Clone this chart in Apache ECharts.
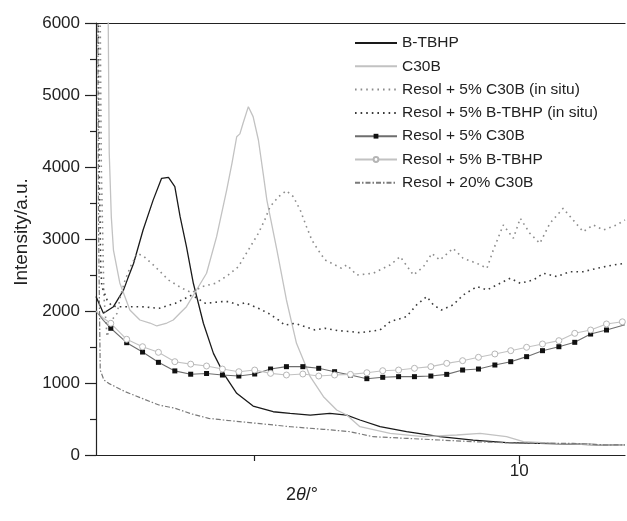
<!DOCTYPE html>
<html>
<head>
<meta charset="utf-8">
<script src="https://cdn.jsdelivr.net/npm/echarts@6/dist/echarts.min.js"></script>
<style>
  html, body { margin: 0; padding: 0; background: #fff; }
  #chart { width: 627px; height: 521px; }
</style>
</head>
<body>
<div id="chart"></div>
<script>
// B-TBHP
const bX = [2.00, 2.14, 2.33, 2.52, 2.60, 2.71, 2.89, 3.08, 3.24, 3.37, 3.49, 3.59, 3.71, 3.84, 4.03, 4.22, 4.41, 4.66, 4.97, 5.35, 5.67, 6.05, 6.42, 6.74, 6.99, 7.37, 7.87, 8.50, 9.13, 9.76, 10.39, 11.02, 11.65, 12.00];
const bY = [2200, 1968, 2060, 2290, 2450, 2660, 3125, 3540, 3843, 3857, 3727, 3310, 2893, 2385, 1830, 1412, 1135, 857, 680, 601, 579, 555, 579, 555, 486, 393, 324, 254, 208, 171, 162, 153, 139, 135];

// C30B
const cX = [2.20, 2.25, 2.29, 2.33, 2.45, 2.64, 2.83, 3.02, 3.15, 3.34, 3.46, 3.59, 3.71, 3.90, 4.09, 4.28, 4.47, 4.57, 4.66, 4.72, 4.78, 4.88, 4.97, 5.07, 5.16, 5.23, 5.42, 5.60, 5.79, 6.05, 6.30, 6.55, 6.74, 6.99, 7.56, 8.19, 8.82, 9.26, 9.76, 10.08, 10.71, 11.65, 12.00];
const cY = [9000, 4200, 3300, 2847, 2390, 2014, 1875, 1833, 1792, 1833, 1875, 1972, 2060, 2292, 2524, 3032, 3680, 4050, 4420, 4460, 4607, 4838, 4700, 4375, 3912, 3540, 2847, 2153, 1551, 1088, 810, 625, 555, 393, 301, 254, 278, 301, 254, 185, 162, 139, 135];

// Resol + 5% C30B (in situ)
const ciX = [2.05, 2.10, 2.15, 2.21, 2.30, 2.40, 2.46, 2.55, 2.65, 2.78, 2.90, 3.12, 3.37, 3.63, 3.81, 4.00, 4.26, 4.50, 4.69, 4.88, 5.07, 5.19, 5.29, 5.45, 5.60, 5.73, 5.86, 5.98, 6.08, 6.20, 6.33, 6.46, 6.64, 6.74, 6.93, 7.24, 7.56, 7.75, 8.00, 8.19, 8.35, 8.50, 8.75, 8.94, 9.20, 9.39, 9.51, 9.70, 9.89, 10.02, 10.20, 10.39, 10.58, 10.83, 11.02, 11.21, 11.40, 11.59, 11.84, 12.00];
const ciY = [9000, 4000, 2200, 1643, 1875, 1968, 2200, 2430, 2615, 2800, 2760, 2615, 2430, 2315, 2254, 2338, 2385, 2500, 2615, 2847, 3080, 3264, 3449, 3588, 3671, 3588, 3403, 3171, 2986, 2847, 2708, 2662, 2593, 2640, 2500, 2524, 2639, 2755, 2500, 2615, 2800, 2708, 2870, 2732, 2662, 2593, 2847, 3195, 3010, 3288, 3080, 2940, 3218, 3426, 3264, 3102, 3195, 3125, 3195, 3264];

// Resol + 5% B-TBHP (in situ)
const biX = [2.02, 2.06, 2.09, 2.11, 2.21, 2.30, 2.43, 2.87, 3.19, 3.50, 3.81, 4.07, 4.38, 4.50, 4.69, 4.82, 5.07, 5.26, 5.45, 5.57, 5.76, 5.95, 6.14, 6.33, 6.58, 6.83, 6.99, 7.37, 7.56, 7.87, 8.06, 8.25, 8.38, 8.53, 8.75, 8.94, 9.20, 9.39, 9.64, 9.83, 10.02, 10.27, 10.46, 10.71, 10.96, 11.21, 11.47, 11.78, 12.00];
const biY = [9000, 4000, 2600, 2338, 2153, 2070, 2060, 2060, 2037, 2107, 2222, 2107, 2130, 2130, 2084, 2115, 2037, 1968, 1875, 1805, 1829, 1782, 1736, 1760, 1727, 1713, 1699, 1736, 1852, 1921, 2084, 2200, 2084, 2014, 2084, 2222, 2338, 2292, 2385, 2455, 2385, 2431, 2524, 2478, 2546, 2546, 2593, 2639, 2662];

// Resol + 5% C30B (square markers; first two and last point are line only)
const mX = [2.00, 2.14, 2.28, 2.58, 2.88, 3.18, 3.49, 3.79, 4.09, 4.39, 4.70, 5.00, 5.30, 5.60, 5.91, 6.21, 6.51, 6.81, 7.12, 7.42, 7.72, 8.02, 8.33, 8.63, 8.93, 9.23, 9.54, 9.84, 10.14, 10.44, 10.75, 11.05, 11.35, 11.65, 12.00];
const mY = [2000, 1870, 1760, 1560, 1430, 1287, 1168, 1122, 1132, 1111, 1097, 1125, 1194, 1227, 1227, 1204, 1157, 1110, 1060, 1079, 1088, 1088, 1097, 1120, 1180, 1194, 1250, 1296, 1366, 1449, 1504, 1565, 1680, 1736, 1810];

// Resol + 5% B-TBHP (circle markers; first two points are line only)
const nX = [2.00, 2.14, 2.28, 2.58, 2.88, 3.18, 3.49, 3.79, 4.09, 4.39, 4.70, 5.00, 5.30, 5.60, 5.91, 6.21, 6.51, 6.81, 7.12, 7.42, 7.72, 8.02, 8.33, 8.63, 8.93, 9.23, 9.54, 9.84, 10.14, 10.44, 10.75, 11.05, 11.35, 11.65, 11.95];
const nY = [2000, 1900, 1829, 1607, 1504, 1426, 1296, 1262, 1236, 1194, 1157, 1180, 1134, 1111, 1125, 1097, 1111, 1120, 1143, 1171, 1180, 1204, 1227, 1273, 1310, 1357, 1403, 1449, 1496, 1542, 1588, 1690, 1736, 1820, 1850];

// Resol + 20% C30B
const ddX = [2.02, 2.05, 2.08, 2.15, 2.24, 2.55, 2.87, 3.19, 3.50, 3.81, 4.13, 4.41, 5.04, 5.67, 6.30, 6.80, 7.24, 7.87, 8.50, 9.13, 9.76, 10.39, 11.02, 11.65, 12.00];
const ddY = [9000, 3000, 1180, 1042, 995, 880, 787, 694, 648, 570, 509, 486, 440, 393, 357, 324, 254, 231, 208, 185, 171, 162, 162, 139, 140];

const names = ['B-TBHP', 'C30B', 'Resol + 5% C30B (in situ)', 'Resol + 5% B-TBHP (in situ)', 'Resol + 5% C30B', 'Resol + 5% B-TBHP', 'Resol + 20% C30B'];
const withMarkers = ['Resol + 5% C30B', 'Resol + 5% B-TBHP'];
const xTicks = [5, 10];
const xLabels = [10];

const font = 'Liberation Sans, Arial, Helvetica, sans-serif';
const ink = '#222';

function pairs(xs, ys) {
  return xs.map((x, i) => [x, ys[i]]);
}
function marked(xs, ys, lead, tail) {
  return xs.map((x, i) => {
    const item = { value: [x, ys[i]] };
    if (i < lead || i >= xs.length - tail) item.symbol = 'none';
    return item;
  });
}

const chart = echarts.init(document.getElementById('chart'));

const baseX = {
  type: 'value', min: 2, max: 12,
  splitLine: { show: false },
  axisLine: { lineStyle: { color: ink, width: 1.2 } }
};

// legend: plain lines get no symbol in their icon
const legendData = names.map(n => withMarkers.includes(n) ? { name: n } : { name: n, itemStyle: { opacity: 0 } });

const option = {
  animation: false,
  textStyle: { fontFamily: font },
  grid: { left: 96, right: 2, top: 23, bottom: 66 },
  xAxis: [
    Object.assign({}, baseX, {
      position: 'bottom',
      axisTick: { customValues: [xTicks[1]], length: 9, lineStyle: { color: ink, width: 1.2 } },
      axisLabel: { customValues: xLabels, margin: 8, fontSize: 17, color: ink, fontFamily: font }
    }),
    Object.assign({}, baseX, {
      position: 'top',
      axisTick: { show: false },
      axisLabel: { show: false }
    }),
    Object.assign({}, baseX, {
      position: 'bottom',
      axisLine: { show: false },
      axisTick: { customValues: [xTicks[0]], length: 6, lineStyle: { color: ink, width: 1.2 } },
      axisLabel: { show: false }
    })
  ],
  yAxis: {
    type: 'value', min: 0, max: 6000, interval: 1000,
    splitLine: { show: false },
    axisLine: { show: true, lineStyle: { color: ink, width: 1.2 } },
    axisTick: { show: true, length: 11, lineStyle: { color: ink, width: 1.2 } },
    minorTick: { show: true, splitNumber: 2, length: 6, lineStyle: { color: ink, width: 1.2 } },
    axisLabel: { margin: 16, fontSize: 17, color: ink, fontFamily: font, formatter: v => String(v) }
  },
  legend: {
    orient: 'vertical', left: 349, top: 30,
    itemWidth: 42, itemHeight: 6, itemGap: 7.3,
    data: legendData,
    textStyle: { fontSize: 15.5, color: ink, lineHeight: 14, fontFamily: font }
  },
  graphic: [
    {
      type: 'text', left: 286, top: 486,
      style: {
        text: '2{i|θ}/°', fontSize: 18, fill: ink, fontFamily: font,
        rich: { i: { fontStyle: 'italic', fontSize: 18, fontFamily: font } }
      }
    },
    {
      type: 'text', x: 22, y: 232, rotation: Math.PI / 2,
      style: {
        text: 'Intensity/a.u.', fontSize: 19, fill: ink, fontFamily: font,
        align: 'center', verticalAlign: 'middle'
      }
    }
  ],
  series: [
    {
      name: names[0], type: 'line', symbol: 'none', data: pairs(bX, bY),
      lineStyle: { color: '#1a1a1a', width: 1.3 }, itemStyle: { color: '#1a1a1a' }
    },
    {
      name: names[1], type: 'line', symbol: 'none', data: pairs(cX, cY),
      lineStyle: { color: '#c2c2c2', width: 1.3 }, itemStyle: { color: '#c2c2c2' }
    },
    {
      name: names[2], type: 'line', symbol: 'none', data: pairs(ciX, ciY),
      lineStyle: { color: '#8c8c8c', width: 1.6, type: [1.6, 4] }, itemStyle: { color: '#8c8c8c' }
    },
    {
      name: names[3], type: 'line', symbol: 'none', data: pairs(biX, biY),
      lineStyle: { color: '#3a3a3a', width: 1.6, type: [1.6, 4] }, itemStyle: { color: '#3a3a3a' }
    },
    {
      name: names[4], type: 'line', symbol: 'rect', symbolSize: 5, showAllSymbol: true,
      data: marked(mX, mY, 2, 1),
      lineStyle: { color: '#6e6e6e', width: 1.1 }, itemStyle: { color: '#111', borderWidth: 0 }
    },
    {
      name: names[5], type: 'line', symbol: 'circle', symbolSize: 6, showAllSymbol: true,
      data: marked(nX, nY, 2, 0),
      lineStyle: { color: '#c2c2c2', width: 1.1 }, itemStyle: { color: '#fff', borderColor: '#b5b5b5', borderWidth: 1 }
    },
    {
      name: names[6], type: 'line', symbol: 'none', data: pairs(ddX, ddY),
      lineStyle: { color: '#7a7a7a', width: 1.2, type: [5, 2, 1.5, 2] }, itemStyle: { color: '#7a7a7a' }
    }
  ]
};

chart.setOption(option);
</script>
</body>
</html>
